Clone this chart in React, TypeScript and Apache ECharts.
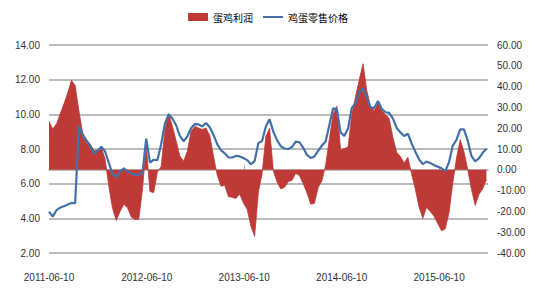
import React, { useEffect, useRef } from "react";
import * as echarts from "echarts";

// Series names (legend)
const seriesNames = ["蛋鸡利润", "鸡蛋零售价格"];

// Sampling start and step (every two weeks)
const startDate = [2011, 6, 10];
const stepDays = 14;
const axisEndDate = [2015, 12, 10];

// X-axis tick labels
const xTickLabels = ["2011-06-10", "2012-06-10", "2013-06-10", "2014-06-10", "2015-06-10"];

// Left axis ticks (price) and right axis ticks (profit)
const leftTicks = [2, 4, 6, 8, 10, 12, 14];
const rightTicks = [-40, -30, -20, -10, 0, 10, 20, 30, 40, 50, 60];

// 蛋鸡利润 (right axis)
const profit = [
  23.3, 19.6, 22, 26.9, 31.7, 36.9, 43, 40.5, 28.3, 17.7,
  14.7, 12.4, 9.3, 9.4, 10.9, 5.2, -7.9, -18.6, -24.4, -20.1,
  -16.6, -18.2, -22.7, -23.9, -23.8, -9.6, 12, -10.4, -11, -1,
  1.5, 19, 27, 21, 14, 6.6, 4.1, 8.8, 18.5, 20.8,
  20.1, 19.4, 20.1, 16.5, 6.5, -2.5, -7.9, -7.4, -12.9, -13.2,
  -13.8, -11.6, -16, -18.9, -27, -32, -10.8, -1.9, 16, 20,
  -0.5, -5.9, -9.2, -8.4, -5.7, -5, -1.7, -2.8, -6.7, -11,
  -16.5, -16.2, -8.5, -5.3, 2.2, 15, 26.7, 30.6, 9.5, 10.2,
  11, 26.6, 35.3, 43.3, 51, 38.1, 30.5, 28.4, 32.3, 28.4,
  26.5, 24.7, 15.4, 8.4, 6.4, 3.3, 6, -2.1, -9.3, -18,
  -23.3, -18, -20.1, -22.3, -25.8, -29.3, -28.4, -20.7, -6.4, 5.6,
  14.5, 8.7, 0.2, -9.4, -17.1, -11.8, -9.2, -4.7,
];

// 鸡蛋零售价格 (left axis)
const price = [
  4.39, 4.1, 4.47, 4.62, 4.7, 4.8, 4.89, 4.87, 9.33, 8.8,
  8.45, 8.19, 7.74, 7.9, 8.13, 7.86, 7.2, 6.55, 6.38, 6.7,
  6.88, 6.71, 6.6, 6.51, 6.51, 6.6, 8.6, 7.22, 7.38, 7.36,
  8.28, 9.46, 10.0, 9.76, 9.37, 8.76, 8.45, 8.72, 9.2, 9.44,
  9.42, 9.3, 9.5, 9.25, 8.81, 8.28, 7.93, 7.75, 7.52, 7.51,
  7.6, 7.57, 7.48, 7.36, 7.12, 7.3, 8.34, 8.46, 9.3, 9.71,
  9.0, 8.51, 8.16, 8.03, 8.0, 8.11, 8.43, 8.39, 8.07, 7.66,
  7.48, 7.57, 7.9, 8.2, 8.43, 9.38, 10.35, 10.3, 8.96, 8.75,
  9.2, 10.37, 10.65, 11.3, 11.5, 10.96, 10.41, 10.36, 10.77, 10.32,
  10.12, 10.08, 9.75, 9.21, 8.96, 8.75, 8.88, 8.32, 7.84, 7.39,
  7.13, 7.27, 7.19, 7.07, 6.98, 6.89, 6.72, 7.23, 8.2, 8.53,
  9.13, 9.13, 8.48, 7.6, 7.28, 7.46, 7.78, 8.02,
];

const DAY = 86400000;

function parseLabel(s: string): number {
  const [y, m, d] = s.split("-").map(Number);
  return Date.UTC(y, m - 1, d);
}

function fmt(ts: number): string {
  const d = new Date(ts);
  const p = (n: number) => (n < 10 ? "0" + n : "" + n);
  return d.getUTCFullYear() + "-" + p(d.getUTCMonth() + 1) + "-" + p(d.getUTCDate());
}

export default function App() {
  const ref = useRef<HTMLDivElement>(null);

  useEffect(() => {
    if (!ref.current) return;
    const chart = echarts.init(ref.current, undefined, { renderer: "svg" });
    const t0 = Date.UTC(startDate[0], startDate[1] - 1, startDate[2]);
    const tEnd = Date.UTC(axisEndDate[0], axisEndDate[1] - 1, axisEndDate[2]);
    const dates = profit.map((_, i) => t0 + i * stepDays * DAY);
    const tickValues = xTickLabels.map(parseLabel);
    const gray = "#A6A6A6";
    const red = "#BE3A37";
    const blue = "#4470A8";
    const labelFont = { fontFamily: "Liberation Sans, Arial, sans-serif", fontSize: 10, color: "#333" };
    const legendText = { fontFamily: "Noto Sans CJK SC", fontSize: 10, color: "#000" };

    chart.setOption({
      animation: false,
      backgroundColor: "#ffffff",
      legend: [
        {
          left: 183,
          top: 7,
          itemWidth: 20,
          itemHeight: 8,
          itemGap: 0,
          textStyle: legendText,
          data: [{ name: seriesNames[0], icon: "rect", itemStyle: { color: red } }],
        },
        {
          left: 258,
          top: 7,
          itemWidth: 20,
          itemHeight: 2,
          itemGap: 0,
          textStyle: legendText,
          data: [{ name: seriesNames[1], icon: "rect", itemStyle: { color: blue } }],
        },
      ],
      grid: { left: 49, right: 52, top: 45, bottom: 49, containLabel: false },
      xAxis: {
        type: "value",
        min: t0,
        max: tEnd,
        scale: true,
        splitLine: { show: false },
        axisLine: { show: true, lineStyle: { color: gray, width: 1.5 } },
        axisTick: {
          show: true,
          inside: true,
          length: 4,
          customValues: tickValues,
          lineStyle: { color: gray },
        },
        axisLabel: {
          ...labelFont,
          margin: 19,
          customValues: tickValues,
          formatter: (v: number) => fmt(v),
          hideOverlap: false,
        },
      },
      yAxis: [
        {
          type: "value",
          min: leftTicks[0],
          max: leftTicks[leftTicks.length - 1],
          interval: 2,
          axisLine: { show: false },
          axisTick: { show: false },
          splitLine: { show: true, lineStyle: { color: gray, width: 1.5 } },
          axisLabel: { ...labelFont, margin: 9, formatter: (v: number) => v.toFixed(2) },
        },
        {
          type: "value",
          min: rightTicks[0],
          max: rightTicks[rightTicks.length - 1],
          interval: 10,
          axisLine: { show: false },
          axisTick: { show: false },
          splitLine: { show: false },
          axisLabel: { ...labelFont, margin: 9, formatter: (v: number) => v.toFixed(2) },
        },
      ],
      series: [
        {
          name: seriesNames[0],
          type: "line",
          yAxisIndex: 1,
          symbol: "none",
          color: red,
          lineStyle: { width: 0.8, color: red },
          areaStyle: { color: red, opacity: 1 },
          data: dates.map((d, i) => [d, profit[i]]),
          z: 2,
        },
        {
          name: seriesNames[1],
          type: "line",
          yAxisIndex: 0,
          symbol: "none",
          color: blue,
          lineStyle: { width: 2.2, color: blue },
          data: dates.map((d, i) => [d, price[i]]),
          z: 3,
        },
      ],
    });
    return () => chart.dispose();
  }, []);

  return (
    <div
      ref={ref}
      style={{ position: "fixed", left: 0, top: 0, width: 540, height: 302, background: "#fff" }}
    />
  );
}
